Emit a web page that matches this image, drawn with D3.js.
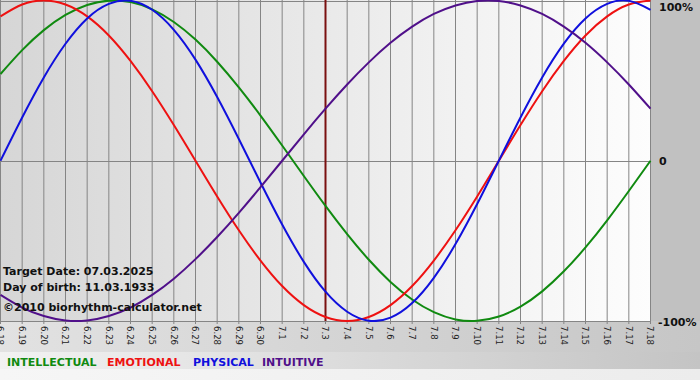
<!DOCTYPE html>
<html><head><meta charset="utf-8">
<script src="https://cdn.jsdelivr.net/npm/d3@7"></script>
<style>html,body{margin:0;padding:0;background:#c0c0c0;}svg{display:block;}</style>
</head><body>
<svg id="chart" width="700" height="380"></svg>
<script>
const days = ["6.18","6.19","6.20","6.21","6.22","6.23","6.24","6.25","6.26","6.27","6.28","6.29","6.30",
  "7.1","7.2","7.3","7.4","7.5","7.6","7.7","7.8","7.9","7.10","7.11","7.12","7.13","7.14","7.15","7.16","7.17","7.18"];
const targetDay = "7.3";
const physical = [0,0.27,0.52,0.73,0.888,0.979,0.998,0.942,0.817,0.631,0.398,0.136,-0.136,-0.398,-0.631,-0.817,-0.942,-0.998,-0.979,-0.888,-0.731,-0.52,-0.27,0,0.27,0.52,0.731,0.888,0.979,0.998,0.942];
const emotional = [0.901,0.975,1,0.975,0.901,0.782,0.623,0.434,0.223,0,-0.223,-0.434,-0.623,-0.782,-0.901,-0.975,-1,-0.975,-0.901,-0.782,-0.623,-0.434,-0.223,0,0.223,0.434,0.623,0.782,0.901,0.975,1];
const intellectual = [0.541,0.69,0.815,0.91,0.972,0.999,0.99,0.945,0.866,0.756,0.618,0.458,0.282,0.095,-0.095,-0.282,-0.458,-0.618,-0.756,-0.866,-0.945,-0.99,-0.999,-0.972,-0.91,-0.815,-0.69,-0.541,-0.372,-0.189,0];
const intuitive = [-0.837,-0.916,-0.969,-0.997,-0.997,-0.969,-0.916,-0.837,-0.736,-0.614,-0.476,-0.325,-0.165,0,0.165,0.325,0.476,0.614,0.736,0.837,0.916,0.969,0.997,0.997,0.969,0.916,0.837,0.736,0.614,0.476,0.325];
const yTicks = [1, 0, -1];
const yTickLabels = ["100%", "0", "-100%"];
const seriesNames = ["INTELLECTUAL","EMOTIONAL","PHYSICAL","INTUITIVE"];
const seriesData = [intellectual, emotional, physical, intuitive];
const colors = ["#108a10","#ee1111","#1010dd","#50108a"];
const texts = ["Target Date: 07.03.2025","Day of birth: 11.03.1933","\u00a92010 biorhythm-calculator.net"];

const svg = d3.select("#chart");
const W = 651, H = 321;
const x = d3.scaleLinear().domain([0, days.length - 1]).range([0.5, W - 0.5]);
const y = d3.scaleLinear().domain([-1, 1]).range([H, 0.5]);

const defs = svg.append("defs");
function hgrad(id, c0, c1){
  const g = defs.append("linearGradient").attr("id",id).attr("x1","0").attr("y1","0").attr("x2","1").attr("y2","0");
  g.append("stop").attr("offset","0").attr("stop-color",c0);
  g.append("stop").attr("offset","1").attr("stop-color",c1);
}
hgrad("pg","#d6d6d6","#fdfdfd");
hgrad("lb","#e2e2e2","#c6c6c6");
hgrad("gb","#f2f2f2","#c4c4c4");
hgrad("bb","#f6f6f6","#ececec");
defs.append("clipPath").attr("id","clip").append("rect").attr("x",0).attr("y",0).attr("width",W+1).attr("height",H+1);

svg.append("rect").attr("width",700).attr("height",380).attr("fill","#c1c1c1");
svg.append("rect").attr("y",H).attr("width",700).attr("height",352-H).attr("fill","url(#lb)");
svg.append("rect").attr("y",352).attr("width",700).attr("height",17).attr("fill","url(#gb)");
svg.append("rect").attr("y",369).attr("width",700).attr("height",11).attr("fill","url(#bb)");
svg.append("rect").attr("width",W).attr("height",H).attr("fill","url(#pg)");

const grid = svg.append("g");
grid.selectAll("line.v").data(days).join("line").attr("class","v")
  .attr("x1",(d,i)=>x(i)).attr("x2",(d,i)=>x(i)).attr("y1",0).attr("y2",H+3)
  .attr("stroke","#858585").attr("stroke-width",1);
grid.selectAll("line.h").data(yTicks).join("line").attr("class","h")
  .attr("x1",0).attr("x2",W).attr("y1",d=>Math.round(y(d))+0.5).attr("y2",d=>Math.round(y(d))+0.5)
  .attr("stroke","#858585").attr("stroke-width",1);

const ti = days.indexOf(targetDay);
svg.append("line").attr("x1",x(ti)).attr("x2",x(ti)).attr("y1",0).attr("y2",H)
  .attr("stroke","#7a1010").attr("stroke-width",2);

const line = d3.line().x((d,i)=>x(i)).y(d=>y(d)).curve(d3.curveNatural);
const lg = svg.append("g").attr("clip-path","url(#clip)");
seriesData.forEach((s,k)=>{
  lg.append("path").attr("d",line(s)).attr("fill","none").attr("stroke",colors[k]).attr("stroke-width",2);
});

svg.append("g").selectAll("text").data(days).join("text")
  .attr("transform",(d,i)=>`translate(${x(i)},${H+5}) rotate(90)`)
  .attr("dy","0.35em").attr("font-family","DejaVu Sans Condensed, DejaVu Sans").attr("font-size",9.5)
  .attr("fill","#222").text(d=>d);

const yl = svg.append("g").attr("font-family","DejaVu Sans").attr("font-weight","bold").attr("font-size",11).attr("fill","#111");
const yPos = [11, 165, 326];
yTickLabels.forEach((t,k)=>{
  yl.append("text").attr("x",t.startsWith("-")?658:659).attr("y",yPos[k]).text(t);
});

const tb = svg.append("g").attr("font-family","DejaVu Sans").attr("font-weight","bold").attr("font-size",11).attr("fill","#111");
[275,291,311].forEach((yy,k)=>tb.append("text").attr("x",3).attr("y",yy).text(texts[k]));

const legX = [7,107,193,262];
const leg = svg.append("g").attr("font-family","DejaVu Sans").attr("font-weight","bold").attr("font-size",11);
seriesNames.forEach((n,k)=>leg.append("text").attr("x",legX[k]).attr("y",366).attr("fill",colors[k]).text(n));
</script>
</body></html>
